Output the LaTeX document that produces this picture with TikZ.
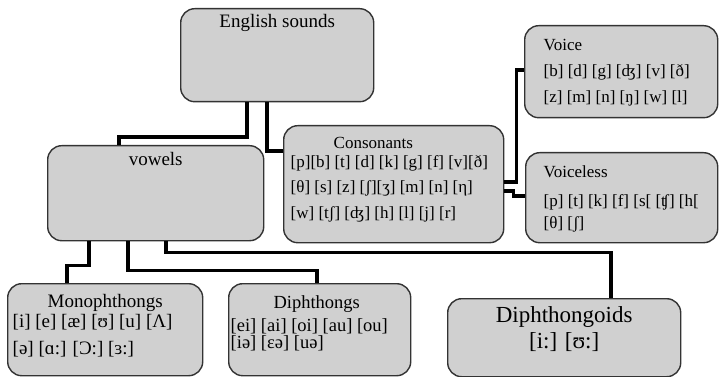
\documentclass[tikz,border=0pt]{standalone}
\usepackage{fontspec}
\setmainfont{Liberation Serif}
\usetikzlibrary{positioning}
\definecolor{boxgray}{HTML}{D0D0D0}
\tikzset{soundbox/.style={rectangle,rounded corners=14pt,draw=black!80,line width=1.4pt,fill=boxgray,inner sep=0pt,anchor=north west}}
\tikzset{link/.style={line width=3.8pt}}
\newcommand{\boxbody}[3]{\parbox[c][#2][t]{#1}{#3}}

\begin{document}
\begin{tikzpicture}[x=1pt,y=-1pt]
  \useasboundingbox (0,0) rectangle (720,377);
  \node (sounds)    [soundbox] at (180,8)   {\boxbody{193pt}{93pt}{\centering\fontsize{19}{22}\selectfont\vspace*{6pt}English sounds}};
  \node (vowels)    [soundbox] at (47,145)  {\boxbody{216pt}{95pt}{\centering\fontsize{19}{22}\selectfont\vspace*{7pt}vowels}};
  \node (conson)    [soundbox] at (283,125) {\boxbody{220pt}{117pt}{\raggedright\leftskip=7pt\fontsize{17}{25.5}\selectfont\vspace*{12pt}\hspace*{43pt}Consonants\\[-7pt]
      {}[p][b] [t] [d] [k] [g] [f] [v][ð]\\
      {}[θ] [s] [z] [ʃ][ʒ] [m] [n] [η]\\
      {}[w] [tʃ] [ʤ] [h] [l] [j] [r]}};
  \node (voice)     [soundbox] at (524,25)  {\boxbody{193pt}{92pt}{\raggedright\leftskip=19pt\fontsize{17}{26}\selectfont\vspace*{14pt}Voice\\
      {}[b] [d] [g] [ʤ] [v] [ð]\\
      {}[z] [m] [n] [ŋ] [w] [l]}};
  \node (voiceless) [soundbox] at (525,152) {\boxbody{192pt}{90pt}{\raggedright\leftskip=18pt\fontsize{17}{22}\selectfont\vspace*{13pt}Voiceless\\[7pt]
      {}[p] [t] [k] [f] [s[ [ʧ] [h[\\
      {}[θ] [ʃ]}};
  \node (mono)      [soundbox] at (7,283)   {\boxbody{195pt}{92pt}{\raggedright\fontsize{19}{27}\selectfont\vspace*{11pt}\makebox[195pt][c]{Monophthongs}\\[-7pt]
      \hspace*{5pt}[i] [e] [æ] [ʊ] [u] [Λ]\\
      \hspace*{5pt}[ə] [ɑ:] [Ɔ:] [ɜ:]}};
  \node (diph)      [soundbox] at (228,283) {\boxbody{182pt}{92pt}{\raggedright\fontsize{18.5}{17.5}\selectfont\vspace*{12pt}\makebox[176pt][c]{Diphthongs}\\[5pt]
      \hspace*{2pt}[ei] [ai] [oi] [au] [ou]\\
      \hspace*{2pt}[iə] [εə] [uə]}};
  \node (diphoid)   [soundbox] at (447,298) {\boxbody{233pt}{78pt}{\centering\fontsize{23}{26}\selectfont\vspace*{8pt}Diphthongoids\\
      {}[i:] [ʊ:]}};

  % tree lines
  \draw[link] ([xshift=67]sounds.south west) -- ++(0,35) -| ([xshift=72]vowels.north west);
  \draw[link] ([xshift=87]sounds.south west) |- ([yshift=-26]conson.north west);
  \draw[link] ([yshift=-57]conson.north east) -- ++(12,0) |- ([yshift=-45]voice.north west);
  \draw[link] ([yshift=-66]conson.north east) -- ++(9,0) -- ++(0,5) -- ([yshift=-44]voiceless.north west);
  \draw[link] ([xshift=42]vowels.south west) -- ++(0,24) -| ([xshift=60]mono.north west);
  \draw[link] ([xshift=81]vowels.south west) -- ++(0,29) -| ([xshift=89]diph.north west);
  \draw[link] ([xshift=119]vowels.south west) -- ++(0,11) -| ([xshift=164]diphoid.north west);
\end{tikzpicture}
\end{document}
